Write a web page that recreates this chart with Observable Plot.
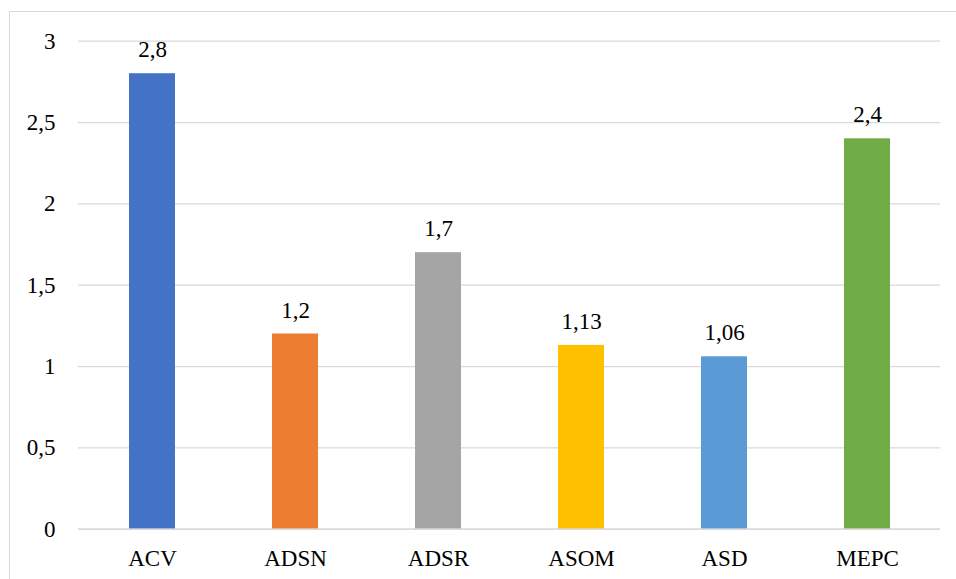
<!DOCTYPE html>
<html>
<head>
<meta charset="utf-8">
<script src="https://cdn.jsdelivr.net/npm/d3@7"></script>
<script src="https://cdn.jsdelivr.net/npm/@observablehq/plot@0.6"></script>
<style>
  html, body { margin: 0; padding: 0; background: #fff; overflow: hidden; width: 956px; height: 579px; }
  #frame { position: absolute; left: 9px; top: 11px; width: 1200px; height: 1200px; border: 1px solid #d9d9d9; box-sizing: border-box; }
  #chart { position: absolute; left: 0; top: 0; }
  #chart svg, #chart svg text { font-family: "Liberation Serif", "Times New Roman", serif !important; font-size: 23px !important; fill: #000; }
  #chart svg { background: transparent !important; }
</style>
</head>
<body>
<div id="frame"></div>
<div id="chart"></div>
<script>
const categories = ["ACV", "ADSN", "ADSR", "ASOM", "ASD", "MEPC"];
const values = [2.8, 1.2, 1.7, 1.13, 1.06, 2.4];
const colors = ["#4472C4", "#ED7D31", "#A5A5A5", "#FFC000", "#5B9BD5", "#70AD47"];
const yTicks = [0, 0.5, 1, 1.5, 2, 2.5, 3];

const data = categories.map((c, i) => ({ cat: c, value: values[i], color: colors[i] }));
const fmt = v => String(v).replace(".", ",");

const chart = Plot.plot({
  width: 956,
  height: 579,
  marginTop: 40.7,
  marginBottom: 50.3,
  marginLeft: 78,
  marginRight: 16,
  x: { domain: categories, paddingInner: 0.68, paddingOuter: 0.34, label: null, tickSize: 0, tickPadding: 20 },
  y: { domain: [0, 3], ticks: yTicks, tickFormat: fmt, label: null, tickSize: 0, tickPadding: 23 },
  marks: [
    Plot.gridY(yTicks, { stroke: "#d9d9d9", strokeOpacity: 1, strokeWidth: 1.3 }),
    Plot.barY(data, { x: "cat", y: "value", fill: "color" }),
    Plot.ruleY([0], { stroke: "#d9d9d9", strokeWidth: 1.3 }),
    Plot.text(data, { x: "cat", y: "value", text: d => fmt(d.value), lineAnchor: "bottom", dy: -16.5, fill: "#000" })
  ]
});
document.getElementById("chart").appendChild(chart);
</script>
</body>
</html>
